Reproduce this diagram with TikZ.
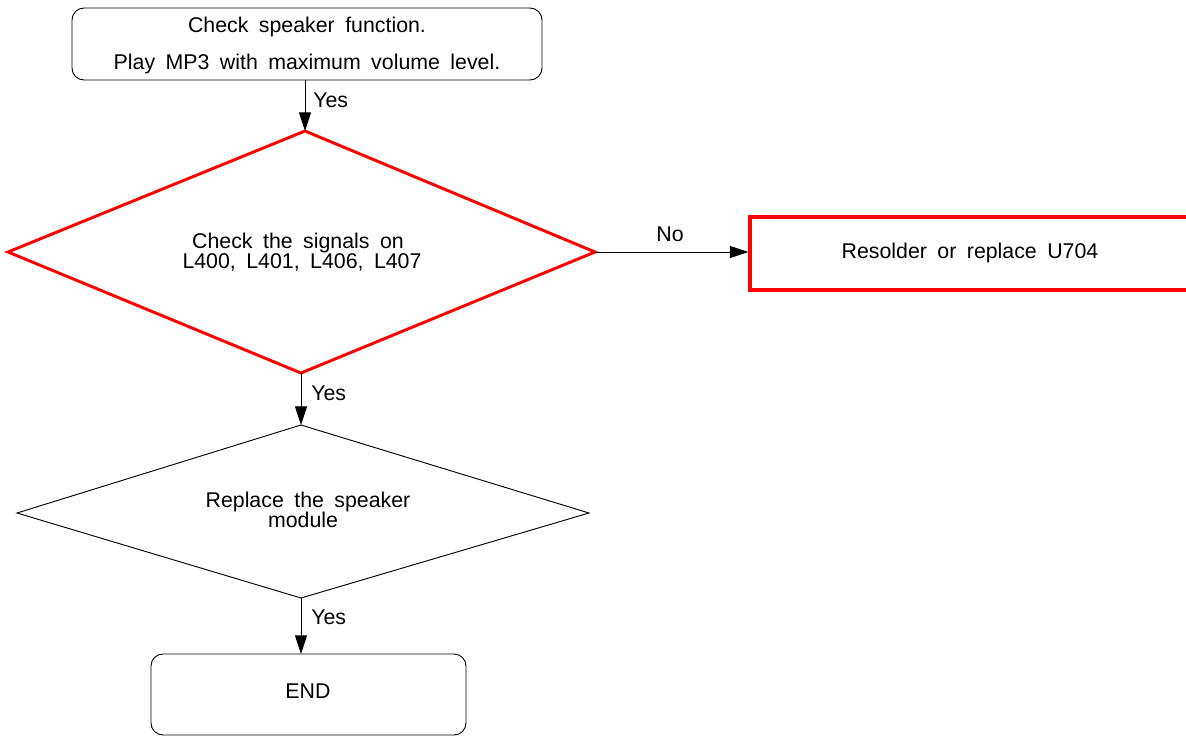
\documentclass[tikz,border=0pt]{standalone}
\usepackage{fontspec}
\setmainfont{Liberation Sans}
\usetikzlibrary{arrows.meta,shapes.geometric}
\newcommand{\flowfont}{\fontsize{16}{17}\selectfont\spaceskip=0.49em plus 0.05em\relax}
\begin{document}
\begin{tikzpicture}[x=0.75pt,y=-0.75pt,
  txt/.style={font=\flowfont, inner sep=0pt, anchor=base},
  thin/.style={line width=0.7pt, black},
  flow/.style={thin, -{Triangle[length=14pt,width=9pt]}},
  rbox/.style={thin, rounded corners=9pt},
  lbl/.style={txt, anchor=base west}]
\useasboundingbox (0,0) rectangle (1186,736);
\clip (0,0) rectangle (1186,736);
% top box
\draw[rbox] (72,8) rectangle (542,80);
\node[txt] (t1) at (307,32) {Check speaker function.};
\node[txt] (t2) at (307,69) {Play MP3 with maximum volume level.};
\coordinate (topbot) at (305,80);
% red diamond
\coordinate (d1t) at (305,131);
\coordinate (d1r) at (595,252);
\coordinate (d1b) at (301,373);
\coordinate (d1l) at (8,252);
\draw[draw=red, line width=2.2pt, line join=miter] (d1t) -- (d1r) -- (d1b) -- (d1l) -- cycle;
\node[txt] (d1a) at (298,248) {Check the signals on};
\node[txt] (d1b2) at (302,268) {L400, L401, L406, L407};
% red rectangle
\draw[draw=red, line width=3pt] (750,216.5) rectangle (1200,289.5);
\node[txt] (r1) at (970,258) {Resolder or replace U704};
\coordinate (r1l) at (748.5,252);
% black diamond
\coordinate (d2t) at (301,425);
\coordinate (d2r) at (589,513);
\coordinate (d2b) at (301,598);
\coordinate (d2l) at (17,513);
\draw[thin] (d2t) -- (d2r) -- (d2b) -- (d2l) -- cycle;
\node[txt] (d2a) at (308,507) {Replace the speaker};
\node[txt] (d2b2) at (303,527) {module};
% END box
\draw[rbox] (151,654) rectangle (466,735);
\node[txt] (e) at (308,698) {END};
\coordinate (etop) at (301,654);
% connectors
\draw[flow] (topbot) -- (d1t);
\node[lbl] (y1) at (313,107) {Yes};
\draw[flow] (d1r) -- (r1l);
\node[txt] (no) at (670,241) {No};
\draw[flow] (d1b) -- (d2t);
\node[lbl] (y2) at (311,400) {Yes};
\draw[flow] (d2b) -- (etop);
\node[lbl] (y3) at (311,624) {Yes};
\end{tikzpicture}
\end{document}
